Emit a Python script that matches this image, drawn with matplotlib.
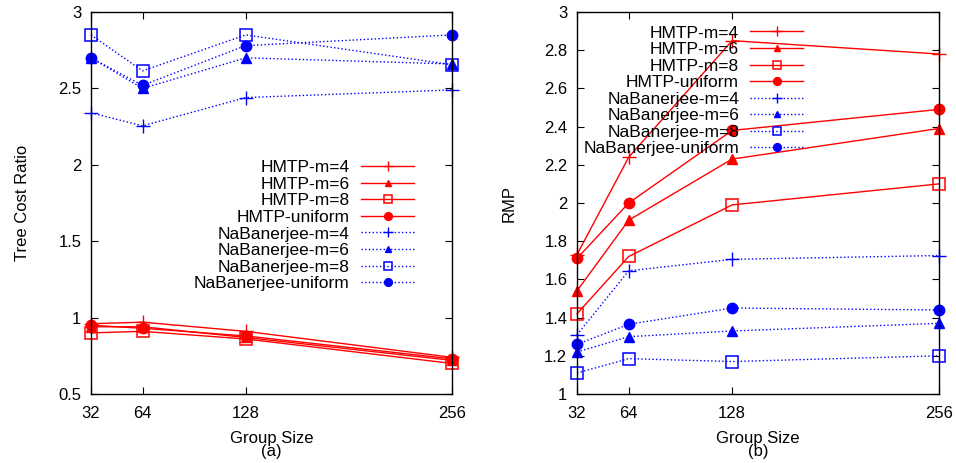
import matplotlib
matplotlib.use("Agg")
import matplotlib.pyplot as plt

plt.rcParams['font.family'] = ['Liberation Sans', 'DejaVu Sans']

group_sizes = [32, 64, 128, 256]
x_ticks = [32, 64, 128, 256]

series_names = ["HMTP-m=4", "HMTP-m=6", "HMTP-m=8", "HMTP-uniform",
                "NaBanerjee-m=4", "NaBanerjee-m=6", "NaBanerjee-m=8", "NaBanerjee-uniform"]

# (a) Tree Cost Ratio
tcr_hmtp_m4 = [0.96, 0.97, 0.91, 0.74]
tcr_hmtp_m6 = [0.94, 0.94, 0.87, 0.72]
tcr_hmtp_m8 = [0.90, 0.91, 0.86, 0.70]
tcr_hmtp_uni = [0.95, 0.93, 0.88, 0.73]
tcr_nab_m4 = [2.34, 2.255, 2.44, 2.49]
tcr_nab_m6 = [2.70, 2.50, 2.70, 2.66]
tcr_nab_m8 = [2.85, 2.615, 2.85, 2.655]
tcr_nab_uni = [2.70, 2.52, 2.78, 2.85]

# (b) RMP
rmp_hmtp_m4 = [1.73, 2.24, 2.85, 2.78]
rmp_hmtp_m6 = [1.54, 1.91, 2.23, 2.39]
rmp_hmtp_m8 = [1.42, 1.72, 1.99, 2.10]
rmp_hmtp_uni = [1.71, 2.00, 2.38, 2.49]
rmp_nab_m4 = [1.31, 1.645, 1.705, 1.725]
rmp_nab_m6 = [1.22, 1.30, 1.33, 1.37]
rmp_nab_m8 = [1.11, 1.185, 1.17, 1.20]
rmp_nab_uni = [1.26, 1.365, 1.45, 1.44]

styles = [
    dict(color='red', ls='-', marker='+', ms=10, mew=1.0),
    dict(color='red', ls='-', marker='^', ms=6.5),
    dict(color='red', ls='-', marker='s', ms=8.5, mfc='none', mew=1.1),
    dict(color='red', ls='-', marker='o', ms=7.5),
    dict(color='blue', ls=':', marker='+', ms=10, mew=1.0),
    dict(color='blue', ls=':', marker='^', ms=6.5),
    dict(color='blue', ls=':', marker='s', ms=8.5, mfc='none', mew=1.1),
    dict(color='blue', ls=':', marker='o', ms=7.5),
]

fig = plt.figure(figsize=(9.56, 4.63), dpi=100)
axa = fig.add_axes([91/956, 1-394/463, (452-91)/956, (394-12)/463])
axb = fig.add_axes([577/956, 1-394/463, (939-577)/956, (394-12)/463])

data_a = [tcr_hmtp_m4, tcr_hmtp_m6, tcr_hmtp_m8, tcr_hmtp_uni,
          tcr_nab_m4, tcr_nab_m6, tcr_nab_m8, tcr_nab_uni]
data_b = [rmp_hmtp_m4, rmp_hmtp_m6, rmp_hmtp_m8, rmp_hmtp_uni,
          rmp_nab_m4, rmp_nab_m6, rmp_nab_m8, rmp_nab_uni]

for ax, data in [(axa, data_a), (axb, data_b)]:
    for name, vals, st in zip(series_names, data, styles):
        ax.plot(group_sizes, vals, label=name, lw=1.0, clip_on=False, **st)
    ax.set_xlim(32, 256)
    ax.set_xticks(x_ticks)
    ax.set_xticklabels([str(t) for t in x_ticks])
    ax.tick_params(direction='in', top=True, right=True, labelsize=12, length=5)
    ax.tick_params(axis='x', pad=9)
    ax.tick_params(axis='y', pad=7)
    for s in ax.spines.values():
        s.set_linewidth(1.0)

axa.set_ylim(0.5, 3)
axa.set_yticks([0.5, 1, 1.5, 2, 2.5, 3])
axa.set_yticklabels(['0.5', '1', '1.5', '2', '2.5', '3'])
axa.set_ylabel("Tree Cost Ratio", fontsize=12, labelpad=20)
axa.set_xlabel("Group Size\n(a)", fontsize=12, linespacing=0.85, labelpad=7)

axb.set_ylim(1, 3)
axb.set_yticks([1, 1.2, 1.4, 1.6, 1.8, 2, 2.2, 2.4, 2.6, 2.8, 3])
axb.set_yticklabels(['1', '1.2', '1.4', '1.6', '1.8', '2', '2.2', '2.4', '2.6', '2.8', '3'])
axb.set_ylabel("RMP", fontsize=12, labelpad=20)
axb.set_xlabel("Group Size\n(b)", fontsize=12, linespacing=0.85, labelpad=7)

leg_kw = dict(frameon=False, markerfirst=False, fontsize=12.5, handlelength=3.05,
              labelspacing=0.08, borderpad=0, borderaxespad=0, handletextpad=0.65,
              markerscale=0.75)
axa.legend(loc='upper right', bbox_to_anchor=(0.895, 0.612), **leg_kw)
axb.legend(loc='upper right', bbox_to_anchor=(0.625, 0.965), **leg_kw)

fig.savefig("out.png", dpi=100)
